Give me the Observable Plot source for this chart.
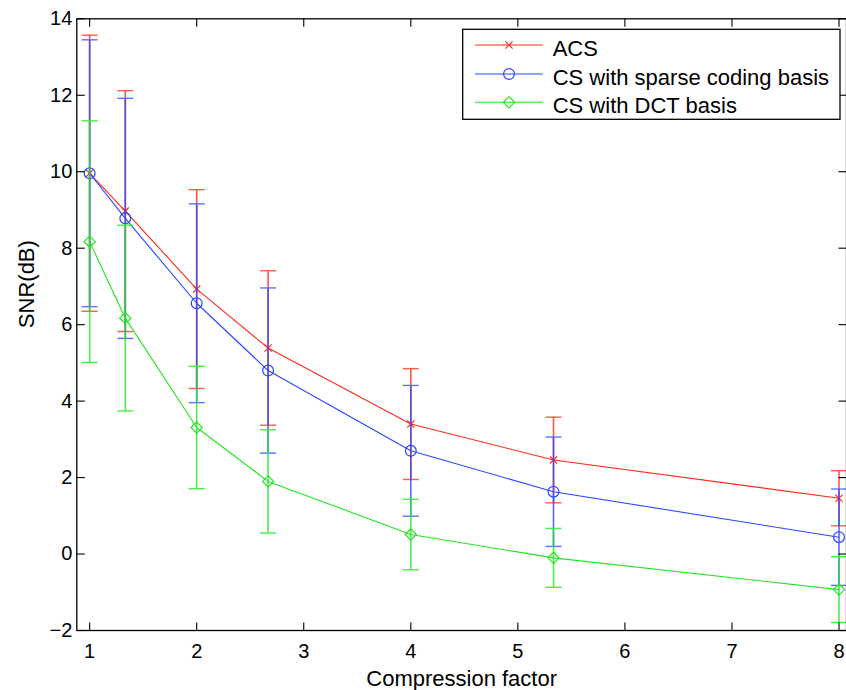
<!DOCTYPE html>
<html><head><meta charset="utf-8">
<script src="https://cdn.jsdelivr.net/npm/d3@7"></script>
<script src="https://cdn.jsdelivr.net/npm/@observablehq/plot@0.6"></script>
<style>body{margin:0;background:#fff} #chart{width:846px;height:690px}</style>
</head><body><div id="chart"></div>
<script>
// ---- data ----
const factors = [1, 1.333, 2, 2.667, 4, 5.333, 8];
const acsMean = [9.96, 8.97, 6.93, 5.39, 3.40, 2.46, 1.46];
const acsStd  = [3.61, 3.15, 2.60, 2.02, 1.45, 1.12, 0.72];
const scMean  = [9.96, 8.78, 6.56, 4.80, 2.70, 1.63, 0.44];
const scStd   = [3.49, 3.14, 2.60, 2.16, 1.71, 1.43, 1.26];
const dctMean = [8.17, 6.17, 3.31, 1.90, 0.51, -0.10, -0.93];
const dctStd  = [3.16, 2.43, 1.60, 1.35, 0.92, 0.77, 0.86];
const seriesNames = ["ACS", "CS with sparse coding basis", "CS with DCT basis"];
const xTicks = [1, 2, 3, 4, 5, 6, 7, 8];
const yTicks = [-2, 0, 2, 4, 6, 8, 10, 12, 14];
const xLabel = "Compression factor";
const yLabel = "SNR(dB)";

// ---- styles ----
const colors = ["#ff2a1a", "#2a46ff", "#22e622"];
const capColors = ["#ff5a4a", "#5a74ff", "#44ee44"];
const font = "Helvetica, Arial, 'Liberation Sans', sans-serif";

const sym = f => ({draw(ctx) { f(ctx); }});
const tickUp = sym(c => { c.moveTo(0, 0); c.lineTo(0, -8); });
const tickDown = sym(c => { c.moveTo(0, 0); c.lineTo(0, 8); });
const tickRight = sym(c => { c.moveTo(0, 0); c.lineTo(8, 0); });
const tickLeft = sym(c => { c.moveTo(0, 0); c.lineTo(-8, 0); });
const cap = sym(c => { c.moveTo(-8, 0); c.lineTo(8, 0); });
const timesSym = sym(c => { c.moveTo(-3.6, -3.6); c.lineTo(3.6, 3.6); c.moveTo(-3.6, 3.6); c.lineTo(3.6, -3.6); });
const circleSym = sym(c => { c.moveTo(5.4, 0); c.arc(0, 0, 5.4, 0, 2 * Math.PI); });
const diamondSym = sym(c => { c.moveTo(0, -5.6); c.lineTo(5.6, 0); c.lineTo(0, 5.6); c.lineTo(-5.6, 0); c.closePath(); });
const markers = [timesSym, circleSym, diamondSym];

const seriesData = [[acsMean, acsStd], [scMean, scStd], [dctMean, dctStd]].map(([m, s], k) =>
  factors.map((f, i) => ({series: seriesNames[k], x: f, y: m[i], lo: m[i] - s[i], hi: m[i] + s[i]})));

const seriesMarks = seriesData.flatMap((data, k) => [
  Plot.ruleX(data, {x: "x", y1: "lo", y2: "hi", stroke: colors[k], strokeWidth: 1.6, strokeOpacity: 0.8}),
  Plot.dot(data, {x: "x", y: "hi", symbol: cap, r: 8, fill: "none", stroke: capColors[k], strokeWidth: 1.4}),
  Plot.dot(data, {x: "x", y: "lo", symbol: cap, r: 8, fill: "none", stroke: capColors[k], strokeWidth: 1.4}),
  Plot.line(data, {x: "x", y: "y", stroke: colors[k], strokeWidth: 1.1}),
  Plot.dot(data, {x: "x", y: "y", symbol: markers[k], r: 5, fill: "none", stroke: colors[k], strokeWidth: 1.2})
]);

function legendMark() {
  const g = d3.create("svg:g").attr("font-family", font).attr("text-anchor", "start");
  const bx = 462.7, by = 29.3, bw = 377.3, bh = 90;
  g.append("rect").attr("x", bx).attr("y", by).attr("width", bw).attr("height", bh)
    .attr("fill", "white").attr("stroke", "black").attr("stroke-width", 1.3);
  const rowsY = [45, 74, 102.3];
  seriesNames.forEach((name, k) => {
    const y = rowsY[k];
    g.append("line").attr("x1", 475).attr("x2", 542.7).attr("y1", y).attr("y2", y)
      .attr("stroke", colors[k]).attr("stroke-width", 1.1);
    const p = d3.path(); markers[k].draw(p);
    g.append("path").attr("d", p.toString()).attr("transform", `translate(509,${y})`)
      .attr("fill", "none").attr("stroke", colors[k]).attr("stroke-width", 1.2);
    g.append("text").attr("x", 552.7).attr("y", y + 10.5).attr("font-size", 22)
      .attr("text-anchor", "start").attr("fill", "black").text(name);
  });
  return g.node();
}

const chart = Plot.plot({
  width: 846, height: 690,
  marginLeft: 76.3, marginRight: 0, marginTop: 18.3, marginBottom: 60,
  style: {fontFamily: font, background: "white", color: "black"},
  x: {domain: [0.88, 8.07], axis: null},
  y: {domain: [-2, 14], axis: null},
  marks: [
    ...seriesMarks,
    Plot.frame({stroke: "black", strokeWidth: 1.3}),
    Plot.dot(xTicks, {x: d => d, frameAnchor: "bottom", symbol: tickUp, r: 1, stroke: "black", strokeWidth: 1.1}),
    Plot.dot(xTicks, {x: d => d, frameAnchor: "top", symbol: tickDown, r: 1, stroke: "black", strokeWidth: 1.1}),
    Plot.dot(yTicks, {y: d => d, frameAnchor: "left", symbol: tickRight, r: 1, stroke: "black", strokeWidth: 1.1}),
    Plot.dot(yTicks, {y: d => d, frameAnchor: "right", symbol: tickLeft, r: 1, stroke: "black", strokeWidth: 1.1}),
    Plot.text(xTicks, {x: d => d, frameAnchor: "bottom", text: d => String(d), dy: 13, lineAnchor: "top", fontSize: 20, fill: "black"}),
    Plot.text(yTicks, {y: d => d, frameAnchor: "left", text: d => d < 0 ? "\u2212" + Math.abs(d) : String(d), dx: -4.5, textAnchor: "end", fontSize: 20, fill: "black"}),
    Plot.text([xLabel], {frameAnchor: "bottom", text: d => d, dy: 55.5, lineAnchor: "bottom", fontSize: 22, fill: "black"}),
    Plot.text([yLabel], {frameAnchor: "left", text: d => d, dx: -42.8, dy: 3.5, rotate: -90, lineAnchor: "bottom", fontSize: 22, fill: "black"}),
    legendMark
  ]
});
document.getElementById("chart").append(chart);
</script>
</body></html>
